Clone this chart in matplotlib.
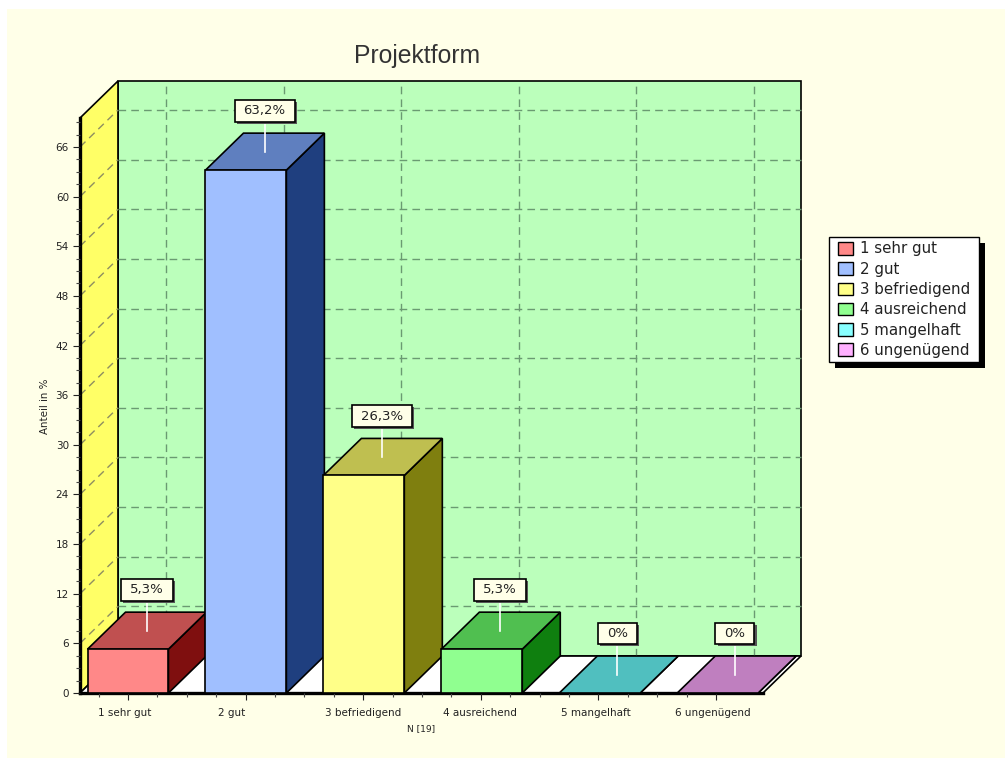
import matplotlib

matplotlib.use("Agg")
import matplotlib.patheffects as pe
import matplotlib.pyplot as plt
from matplotlib.legend_handler import HandlerPatch
from matplotlib.patches import Patch, Polygon, Rectangle
from matplotlib.path import Path
from matplotlib.transforms import ScaledTranslation

categories = ["1 sehr gut", "2 gut", "3 befriedigend", "4 ausreichend", "5 mangelhaft", "6 ungenügend"]
values = [5.3, 63.2, 26.3, 5.3, 0, 0]
value_labels = ["5,3%", "63,2%", "26,3%", "5,3%", "0%", "0%"]
front_colours = ["#ff8888", "#a0bfff", "#ffff88", "#90ff90", "#88ffff", "#ffb0ff"]
side_colours = ["#7f0f0f", "#1f3f7f", "#7f7f0f", "#0f7f0f", "#0f7f7f", "#7f0f7f"]
top_colours = ["#c05050", "#5f7fbf", "#bfbf50", "#50bf50", "#50bfbf", "#bf7fbf"]
y_ticks = list(range(0, 67, 6))

PAGE = "#ffffe8"
W, H = 1005, 758
# Pseudo 3D depth, in data units
DX, DY = 0.323, 4.47
HALF = 0.344
BAR_PITCH = 1.003
XLIM = (-0.408, 5.4)
YLIM = (0, 69.5)

plt.rcParams["font.family"] = ["DejaVu Sans"]

fig = plt.figure(figsize=(W / 100, H / 100), dpi=100, facecolor="white")
fig.patches.append(
    Rectangle((7 / W, 0), 1, 1 - 9 / H, transform=fig.transFigure, facecolor=PAGE, edgecolor="none", zorder=-1)
)

ax = fig.add_axes([80 / W, (H - 693) / H, (763 - 80) / W, (693 - 118) / H])
ax.set_xlim(*XLIM)
ax.set_ylim(*YLIM)
ax.patch.set_visible(False)


def poly(points, colour, z, lw=1.2):
    ax.add_patch(Polygon(points, closed=True, facecolor=colour, edgecolor="black", linewidth=lw, zorder=z, clip_on=False))


def label_box(x, y, w, h, em):
    # Wider padding left and right than above and below
    px, py = 0.68 * em, 0.32 * em
    x, y, w, h = x - px, y - py, w + 2 * px, h + 2 * py
    return Path([(x, y), (x + w, y), (x + w, y + h), (x, y + h), (x, y)], closed=True)


x0, x1 = XLIM
top = YLIM[1]

# Walls and floor
poly([(x0 + DX, DY), (x1 + DX, DY), (x1 + DX, top + DY), (x0 + DX, top + DY)], "#bbffbb", 1)
poly([(x0, 0), (x0 + DX, DY), (x0 + DX, top + DY), (x0, top)], "#ffff66", 1)
poly([(x0, 0), (x1, 0), (x1 + DX, DY), (x0 + DX, DY)], "white", 1)

# Grid on the walls
grid_style = dict(linewidth=1, dashes=(5.5, 3.7), zorder=1.2, clip_on=False)
for t in y_ticks[1:]:
    ax.plot([x0 + DX, x1 + DX], [t + DY, t + DY], color="#6a9a72", **grid_style)
    ax.plot([x0, x0 + DX], [t, t + DY], color="#8f8f60", **grid_style)
for i in range(len(categories)):
    ax.plot([i + DX, i + DX], [DY, top + DY], color="#6a9a72", **grid_style)

# Bars
for i, v in enumerate(values):
    a, b = i * BAR_PITCH - HALF, i * BAR_PITCH + HALF
    z = 2 + i * 0.1
    poly([(b, 0), (b + DX, DY), (b + DX, v + DY), (b, v)], side_colours[i], z)
    poly([(a, v), (b, v), (b + DX, v + DY), (a + DX, v + DY)], top_colours[i], z)
    if v > 0:
        poly([(a, 0), (b, 0), (b, v), (a, v)], front_colours[i], z)

# Value labels with their white stems
for i, v in enumerate(values):
    cx = i + DX / 2
    ax.plot([cx, cx], [v + DY / 2, v + DY + 1.5], color="white", linewidth=1.2, zorder=3, clip_on=False)
    lab = ax.text(
        cx, v + DY + 2.7, value_labels[i], ha="center", va="center", fontsize=9.5, zorder=4, color="#222222",
        bbox=dict(boxstyle="square,pad=0.3", facecolor=PAGE, edgecolor="black", linewidth=1.2),
    )
    lab.get_bbox_patch().set_boxstyle(label_box)
    lab.get_bbox_patch().set_path_effects(
        [pe.SimplePatchShadow(offset=(1.5, -1.5), shadow_rgbFace="#555555", alpha=1), pe.Normal()]
    )

# Axes
for side in ("top", "right"):
    ax.spines[side].set_visible(False)
ax.spines["left"].set_linewidth(2.4)
ax.spines["left"].set_zorder(1.5)
ax.spines["bottom"].set_linewidth(2.4)
ax.spines["bottom"].set_zorder(1.5)
ax.set_xticks(range(len(categories)), categories, fontsize=7.5)
ax.set_xticks([i + k * 0.25 for i in range(-1, 6) for k in (1, 2, 3) if x0 < i + k * 0.25 < x1 - 0.2], minor=True)
ax.set_yticks(y_ticks, [str(t) for t in y_ticks], fontsize=7.5)
ax.set_yticks([k * 1.5 for k in range(47) if k % 4], minor=True)
ax.tick_params(axis="both", which="major", length=5, width=0.8, pad=3, colors="#222222")
ax.tick_params(axis="both", which="minor", length=3, width=0.8, colors="#444444")
ax.tick_params(axis="x", which="major", pad=6)

# Tick labels sit a little left of their ticks in the original
shifts = [-3.6, -14, 0, -1, -2, -3]
for lab, s in zip(ax.get_xticklabels(), shifts):
    lab.set_transform(lab.get_transform() + ScaledTranslation(s / 100, 0, fig.dpi_scale_trans))

fig.text(417 / W, 1 - 56 / H, "Projektform", ha="center", va="center", fontsize=17.8, color="#333333", family="Liberation Sans")
fig.text(421 / W, 1 - 729 / H, "N [19]", ha="center", va="center", fontsize=6.5, color="#222222")
fig.text(45 / W, 1 - 406 / H, "Anteil in %", ha="center", va="center", rotation=90, fontsize=7.4, color="#222222")

# Legend
handles = [Patch(facecolor=c, edgecolor="black", linewidth=1) for c in front_colours]
leg = fig.legend(
    handles, categories, loc="upper left", bbox_to_anchor=(829 / W, 1 - 361 / H, 150 / W, 124 / H), borderaxespad=0,
    mode="expand", prop=dict(family="DejaVu Sans", size=10.8), fancybox=False, framealpha=1, edgecolor="black",
    labelspacing=0.35, handlelength=1.27, handleheight=0.92, handletextpad=0.48, borderpad=0.3,
    handler_map={Patch: HandlerPatch(xpad=0.33)},
)
leg.get_frame().set_path_effects(
    [pe.SimplePatchShadow(offset=(4.3, -4.3), shadow_rgbFace="black", alpha=1), pe.Normal()]
)
for text in leg.get_texts():
    text.set_color("#222222")

fig.savefig("out.png", dpi=100, facecolor=fig.get_facecolor())
